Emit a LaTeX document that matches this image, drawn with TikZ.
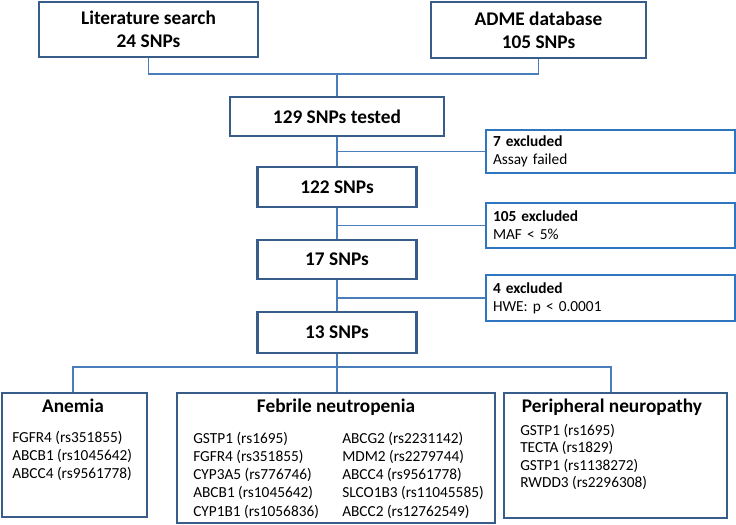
\documentclass[tikz,border=0pt]{standalone}
\usepackage{fontspec}
\setmainfont{Carlito}
\usetikzlibrary{positioning}

\definecolor{boxline}{HTML}{385D8A}
\definecolor{linkline}{HTML}{4A7EBB}
\definecolor{exline}{HTML}{2F76C0}

\begin{document}
\begin{tikzpicture}[
  x=0.75pt, y=-0.75pt,
  stage/.style={draw=boxline, line width=2pt, fill=white, inner sep=0pt, align=center,
    font=\fontsize{14.5}{17.25}\selectfont\bfseries},
  exbox/.style={draw=exline, line width=1.2pt, fill=white, inner xsep=5.25pt, inner ysep=0pt,
    text width=176.25pt, align=left, font=\fontsize{11.5}{13.5}\selectfont},
  group/.style={draw=boxline, line width=2pt, fill=white, inner sep=0pt},
  grouptitle/.style={anchor=base, inner sep=0pt, font=\fontsize{14.5}{17}\selectfont\bfseries},
  gene/.style={anchor=base west, inner sep=0pt, font=\fontsize{11.5}{13.5}\selectfont},
  link/.style={draw=linkline, line width=0.9pt}
]
  \useasboundingbox (0,0) rectangle (736,525);

  % sources
  \node[stage, minimum width=164.25pt, minimum height=41.25pt] (lit) at (148.5,29.5) {Literature search\\24 SNPs};
  \node[stage, minimum width=161.25pt, minimum height=42pt] (adme) at (538.5,30) {ADME database\\105 SNPs};

  % filtering steps
  \node[stage, minimum width=160.5pt, minimum height=29.25pt] (tested) at (337,116.5) {129 SNPs tested};
  \node[stage, minimum width=119.25pt, minimum height=30pt] (s122) at (337,187) {122 SNPs};
  \node[stage, minimum width=119.25pt, minimum height=29.25pt] (s17) at (337,259.5) {17 SNPs};
  \node[stage, minimum width=119.25pt, minimum height=30.75pt] (s13) at (337,332.5) {13 SNPs};

  \node[exbox, minimum height=32.25pt] (ex1) at (610.5,151.5) {\textbf{7 excluded}\\Assay failed};
  \node[exbox, minimum height=33.75pt] (ex2) at (610.5,225.5) {\textbf{105 excluded}\\MAF < 5\%};
  \node[exbox, minimum height=34.5pt] (ex3) at (610.5,298) {\textbf{4 excluded}\\HWE: p < 0.0001};

  % outcome groups
  \node[group, minimum width=108.75pt, minimum height=93pt] (anemia) at (74.5,455) {};
  \node[group, minimum width=238.5pt, minimum height=97.5pt] (febrile) at (336,458) {};
  \node[group, minimum width=167.25pt, minimum height=93.75pt] (periph) at (615.5,455.5) {};

  \node[grouptitle] (anemiaT) at (73,412) {Anemia};
  \node[grouptitle] (febrileT) at (336,412) {Febrile neutropenia};
  \node[grouptitle] (periphT) at (612,412) {Peripheral neuropathy};

  \foreach \g [count=\i] in {FGFR4 (rs351855), ABCB1 (rs1045642), ABCC4 (rs9561778)}
    \node[gene] (an\i) at (12,442+18*\i-18) {\g};
  \foreach \g [count=\i] in {GSTP1 (rs1695), FGFR4 (rs351855), CYP3A5 (rs776746),
      ABCB1 (rs1045642), CYP1B1 (rs1056836)}
    \node[gene] (fl\i) at (193,443+18.3*\i-18.3) {\g};
  \foreach \g [count=\i] in {ABCG2 (rs2231142), MDM2 (rs2279744), ABCC4 (rs9561778),
      SLCO1B3 (rs11045585), ABCC2 (rs12762549)}
    \node[gene] (fr\i) at (342,443+18.3*\i-18.3) {\g};
  \foreach \g [count=\i] in {GSTP1 (rs1695), TECTA (rs1829), GSTP1 (rs1138272), RWDD3 (rs2296308)}
    \node[gene] (pn\i) at (520,435+17.5*\i-17.5) {\g};

  % connectors
  \coordinate (join) at (337,74);
  \draw[link] (lit.south) |- (join) -| (adme.south);
  \draw[link] (join) -- (tested.north);
  \draw[link] (tested.south) -- (s122.north);
  \draw[link] (s122.south) -- (s17.north);
  \draw[link] (s17.south) -- (s13.north);
  \draw[link] (ex1.west) -- (ex1.west -| tested.south);
  \draw[link] (ex2.west) -- (ex2.west -| s122.south);
  \draw[link] (ex3.west) -- (ex3.west -| s17.south);

  \coordinate (bus) at (337,367);
  \draw[link] (s13.south) -- (s13.south |- febrile.north);
  \draw[link] ([xshift=-1.1pt]anemia.north) |- (bus) -| ([xshift=-3.4pt]periph.north);
\end{tikzpicture}
\end{document}
